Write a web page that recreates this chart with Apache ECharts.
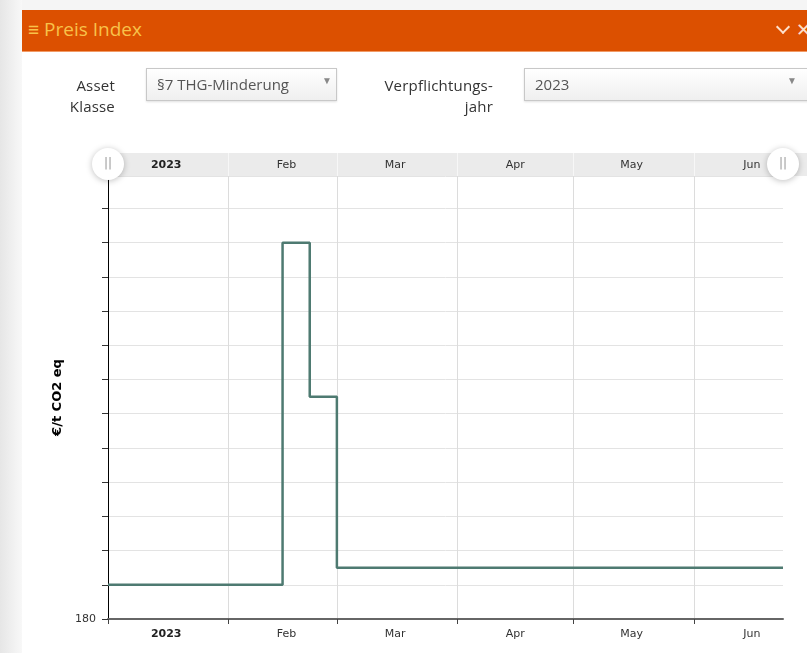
<!DOCTYPE html>
<html>
<head>
<meta charset="utf-8">
<script src="https://cdn.jsdelivr.net/npm/echarts@6/dist/echarts.min.js"></script>
<style>
  body { margin: 0; width: 807px; height: 653px; overflow: hidden; background: #fff; font-family: 'Open Sans', sans-serif; }
  #side { position: absolute; left: 0; top: 0; width: 22px; height: 653px; background: linear-gradient(to right, #e6e6e6, #f8f8f8); }
  #topstrip { position: absolute; left: 0; top: 0; width: 807px; height: 10px; background: #f5f5f5; }
  #head { position: absolute; left: 22px; top: 10px; width: 785px; height: 41px; background: #dc5000; border-bottom: 1px solid #f19a66; z-index: 5; overflow: hidden; }
  #head .title { position: absolute; left: 6px; top: 6px; font-size: 19px; color: #f8c24a; }
  #head .chev { position: absolute; left: 756px; top: 12px; width: 8px; height: 8px; border-right: 2px solid #fde0cc; border-bottom: 2px solid #fde0cc; transform: rotate(45deg); }
  #head .close { position: absolute; left: 774px; top: 7px; font-size: 18px; color: #fde0cc; }
  .lbl { position: absolute; font-size: 15px; color: #333; text-align: right; line-height: 21px; z-index: 5; letter-spacing: 0.2px; }
  .sel { position: absolute; top: 68px; height: 33px; box-sizing: border-box; border: 1px solid #c8c8c8;
         background: linear-gradient(#ffffff, #efefef); box-shadow: 0 1px 2px rgba(0,0,0,0.12);
         font-size: 15px; color: #555; line-height: 31px; padding-left: 10px; z-index: 5; }
  .sel .arr { position: absolute; top: -4px; font-size: 10px; color: #888; }
  #chart { position: absolute; left: 0; top: 0; width: 807px; height: 653px; }
</style>
</head>
<body>
<div id="topstrip"></div>
<div id="side"></div>
<div id="chart"></div>
<div id="head"><span class="title">&#8801; Preis Index</span><span class="chev"></span><span class="close">&#10005;</span></div>
<div class="lbl" style="left:40px;top:75px;width:75px;">Asset<br>Klasse</div>
<div class="sel" style="left:146px;width:191px;">§7 THG-Minderung<span class="arr" style="left:175px;">&#9660;</span></div>
<div class="lbl" style="left:330px;top:75px;width:163px;">Verpflichtungs-<br>jahr</div>
<div class="sel" style="left:524px;width:290px;">2023<span class="arr" style="left:262px;">&#9660;</span></div>
<script>
// Preis Index chart

// step points (date, €/t CO2 eq)
const dates = ['2023-01-01', '2023-02-15', '2023-02-22', '2023-03-01', '2023-06-24'];
const prices = [190, 290, 245, 195, 195];

// axis marks
const monthStarts = ['2023-01-01', '2023-02-01', '2023-03-01', '2023-04-01', '2023-05-01', '2023-06-01'];
const labelDays = ['2023-01-16', '2023-02-16', '2023-03-16', '2023-04-16', '2023-05-16', '2023-06-16'];
const monthLabels = ['2023', 'Feb', 'Mar', 'Apr', 'May', 'Jun'];

function toTime(s) {
    var p = s.split('-');
    return Date.UTC(+p[0], +p[1] - 1, +p[2]);
}

var seriesData = dates.map(function (d, i) { return [toTime(d), prices[i]]; });
var tickVals = monthStarts.map(toTime);
var labelVals = labelDays.map(toTime);

function monthLabel(v) {
    var m = new Date(v).getUTCMonth();
    return m === 0 ? '{b|' + monthLabels[0] + '}' : monthLabels[m];
}

var xMin = toTime('2023-01-01');
var xMax = toTime('2023-06-24');
var labelFont = { fontFamily: 'DejaVu Sans', fontSize: 11, color: '#333',
    rich: { b: { fontFamily: 'DejaVu Sans', fontSize: 11, fontWeight: 'bold', color: '#222' } } };

var myChart = echarts.init(document.getElementById('chart'));
var option = {
    animation: false,
    grid: { left: 108, right: 24, top: 176, bottom: 34 },
    xAxis: [
        {
            type: 'value',
            min: xMin,
            max: xMax,
            position: 'bottom',
            axisLine: { lineStyle: { color: '#666', width: 2 } },
            axisTick: { show: true, customValues: tickVals, length: 5, lineStyle: { color: '#444' } },
            axisLabel: Object.assign({ customValues: labelVals, formatter: monthLabel, margin: 10, hideOverlap: false }, labelFont),
            splitLine: { show: true, lineStyle: { color: '#dcdcdc' } }
        },
        {
            type: 'value',
            min: xMin,
            max: xMax,
            position: 'top',
            axisLine: { show: false },
            axisTick: { show: true, customValues: tickVals, length: 23, lineStyle: { color: '#f7f7f7' } },
            axisLabel: Object.assign({ customValues: labelVals, formatter: monthLabel, margin: 5, hideOverlap: false }, labelFont),
            splitLine: { show: false }
        }
    ],
    yAxis: {
        type: 'value',
        min: 180,
        max: 309.5,
        interval: 10,
        name: '€/t CO2 eq',
        nameLocation: 'middle',
        nameRotate: 90,
        nameGap: 41,
        nameTextStyle: { fontFamily: 'DejaVu Sans', fontSize: 13, fontWeight: 'bold', color: '#000' },
        axisLine: { show: true, lineStyle: { color: '#000', width: 1 } },
        axisTick: { show: true, length: 6, lineStyle: { color: '#333' } },
        axisLabel: {
            fontFamily: 'DejaVu Sans', fontSize: 11, color: '#333', margin: 12,
            formatter: function (v) { return v === 180 ? '180' : ''; }
        },
        splitLine: { lineStyle: { color: '#e3e3e3' } }
    },
    graphic: [
        { type: 'rect', z: -1, shape: { x: 108, y: 153, width: 699, height: 23 }, style: { fill: '#ebebeb' } },
        { type: 'circle', z: 100, shape: { cx: 108, cy: 164, r: 16 },
          style: { fill: '#fff', shadowBlur: 6, shadowColor: 'rgba(0,0,0,0.25)', shadowOffsetY: 1 } },
        { type: 'text', z: 101, x: 108, y: 164,
          style: { text: '||', fill: '#999', font: '12px DejaVu Sans', align: 'center', verticalAlign: 'middle' } },
        { type: 'circle', z: 100, shape: { cx: 783, cy: 164, r: 16 },
          style: { fill: '#fff', shadowBlur: 6, shadowColor: 'rgba(0,0,0,0.25)', shadowOffsetY: 1 } },
        { type: 'text', z: 101, x: 783, y: 164,
          style: { text: '||', fill: '#999', font: '12px DejaVu Sans', align: 'center', verticalAlign: 'middle' } }
    ],
    series: [
        {
            name: 'Preis Index',
            type: 'line',
            step: 'end',
            xAxisIndex: 0,
            showSymbol: false,
            lineStyle: { color: '#4e7a71', width: 2.5 },
            data: seriesData
        }
    ]
};
myChart.setOption(option);
</script>
</body>
</html>
